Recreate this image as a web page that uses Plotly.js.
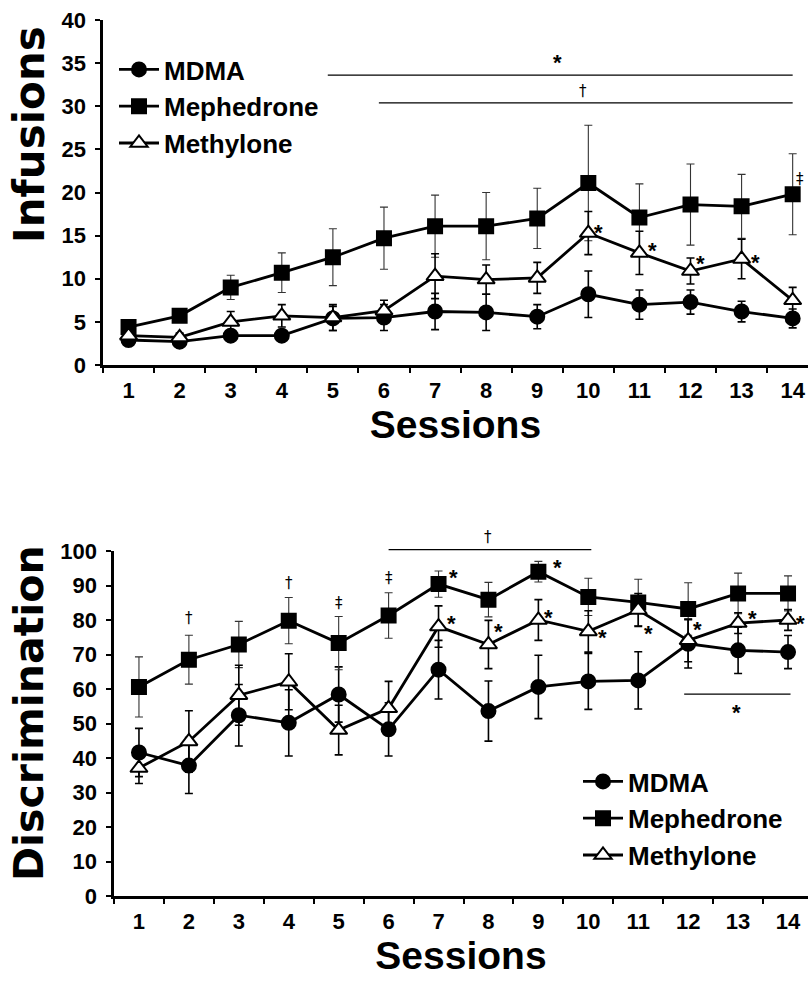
<!DOCTYPE html>
<html><head><meta charset="utf-8">
<script src="https://cdn.plot.ly/plotly-3.0.1.min.js"></script>
<style>html,body{margin:0;padding:0;background:#fff;}#chart{width:808px;height:984px;}</style>
</head><body><div id="chart"></div>
<script>
const sessions = [1,2,3,4,5,6,7,8,9,10,11,12,13,14];
const seriesNames = ['MDMA', 'Mephedrone', 'Methylone'];

// Top panel: Infusions
const infMDMA     = [2.9,2.7,3.4,3.4,5.4,5.5,6.2,6.1,5.6,8.2,7.0,7.3,6.2,5.4];
const infMDMAErr  = [0.6,0.3,0.4,0.5,1.4,1.5,2.1,2.1,1.4,2.7,1.7,1.4,1.2,1.1];
const infMeph     = [4.4,5.7,9.0,10.7,12.5,14.7,16.1,16.1,17.0,21.1,17.1,18.6,18.4,19.8];
const infMephErr  = [0.3,0.3,1.4,2.3,3.3,3.6,3.6,3.9,3.5,6.7,3.9,4.7,3.7,4.7];
const infMeth     = [3.4,3.2,5.0,5.7,5.5,6.3,10.3,9.9,10.1,15.3,13.0,10.9,12.3,7.5];
const infMethErr  = [0.5,0.5,1.2,1.3,1.5,1.2,2.6,1.7,1.8,2.5,2.5,1.5,2.3,1.5];

// Bottom panel: Discrimination
const discMDMA    = [41.6,37.8,52.4,50.2,58.4,48.3,65.6,53.6,60.6,62.2,62.5,73.1,71.2,70.7];
const discMDMAErr = [7.0,8.1,8.9,9.6,8.0,7.7,8.5,8.7,9.2,8.1,8.3,7.0,6.7,4.8];
const discMeph    = [60.6,68.5,72.9,79.8,73.3,81.3,90.4,85.9,94.0,86.7,85.1,83.2,87.7,87.7];
const discMephErr = [8.7,7.1,6.7,6.7,7.7,6.6,3.8,5.0,3.0,5.4,6.7,7.6,5.9,5.1];
const discMeth    = [37.1,44.8,58.2,62.1,48.1,54.4,78.1,72.9,80.0,76.7,82.9,74.1,79.1,80.0];
const discMethErr = [4.5,8.9,8.7,8.1,7.2,7.8,6.0,7.0,5.9,6.0,4.8,6.2,3.0,3.0];

const FONT = 'Liberation Sans, Arial, sans-serif';
const W = 808, H = 984;
const topDom = [(H-365)/H, (H-20)/H];
const botDom = [(H-896)/H, (H-551)/H];
const topRange = [0, 40], botRange = [0, 100];
function py(v, dom, rng){ return dom[0] + (v-rng[0])/(rng[1]-rng[0])*(dom[1]-dom[0]); }

const styles = [
  {symbol:'circle', fill:'black', size:14, err:'black', et:1.6},
  {symbol:'square', fill:'black', size:14, err:'#333', et:1.1},
  {symbol:'triangle-up', fill:'white', size:15, err:'black', et:1.6}
];

function tr(y, err, i, xa, ya, leg){
  const s = styles[i];
  return {
    x: sessions, y: y, name: seriesNames[i], type:'scatter', mode:'lines+markers',
    xaxis: xa, yaxis: ya, legend: leg,
    line:{color:'black', width:2.8},
    marker:{symbol:s.symbol, size:s.size, color:s.fill, line:{color:'black', width:2}},
    error_y:{type:'data', array: err, visible:true, color:s.err, thickness:s.et, width:4},
    cliponaxis:false
  };
}

const data = [
  tr(infMDMA, infMDMAErr, 0, 'x', 'y', 'legend'),
  tr(infMeph, infMephErr, 1, 'x', 'y', 'legend'),
  tr(infMeth, infMethErr, 2, 'x', 'y', 'legend'),
  tr(discMDMA, discMDMAErr, 0, 'x2', 'y2', 'legend2'),
  tr(discMeph, discMephErr, 1, 'x2', 'y2', 'legend2'),
  tr(discMeth, discMethErr, 2, 'x2', 'y2', 'legend2')
];

const tickFont = {family:FONT, size:22, color:'black', weight:'bold'};
function xax(domLeft, rmax, anchor){
  return {
    domain:[domLeft/W, 1], range:[0.5, rmax], anchor: anchor,
    showline:true, linecolor:'black', linewidth:2.6, showgrid:false, zeroline:false,
    tickmode:'array', tickvals: sessions, ticktext: sessions.map(String), ticks:'',
    ticklabelstandoff: 4,
    tickfont: tickFont,
    minor:{tickmode:'linear', tick0:0.5, dtick:1, ticks:'outside', ticklen:5, tickwidth:2, tickcolor:'black', showgrid:false},
    title:{text:'Sessions', font:{family:FONT, size:39, color:'black', weight:'bold'}, standoff:6}
  };
}
function yax(dom, rng, dt, anchor){
  return {
    domain: dom, range: rng, anchor: anchor, dtick: dt, tick0:0,
    showline:true, linecolor:'black', linewidth:2.6, showgrid:false, zeroline:false,
    ticks:'outside', ticklen:5, tickwidth:2, tickcolor:'black', ticklabelstandoff:5,
    tickfont: tickFont
  };
}

const ann = [];
// y-axis titles (rotated text, positioned like the reference)
ann.push({xref:'paper', yref:'paper', x:29/W, y:1-135/H, text:'Infusions', textangle:-90, showarrow:false,
  xanchor:'center', yanchor:'middle', font:{family:'DejaVu Sans, sans-serif', size:42, color:'black', weight:'bold'}});
ann.push({xref:'paper', yref:'paper', x:29/W, y:1-713/H, text:'Discrimination', textangle:-90, showarrow:false,
  xanchor:'center', yanchor:'middle', font:{family:'DejaVu Sans, sans-serif', size:41, color:'black', weight:'bold'}});

function txt(xref, yref, x, y, t, size, shift){
  ann.push({xref:xref, yref:yref, x:x, y:y, text:t, showarrow:false,
    font:{family: t==='*' ? FONT : 'DejaVu Sans, sans-serif', size:size, color:'#000000', weight: t==='*'?'bold':'normal'},
    xanchor:'center', yanchor:'middle', yshift: shift||0});
}
const AST = 22, DAG = 15, ASH = -5;
// top panel marks
txt('x','y',9.4,35.6,'*',AST,ASH);
txt('x','y',9.9,31.8,'†',DAG,0);
txt('x','y',14.15,21.6,'‡',DAG,0);
[[10.2,15.9],[11.25,13.8],[12.2,12.4],[13.27,12.5]].forEach(p=>txt('x','y',p[0],p[1],'*',AST,ASH));
// bottom panel marks
txt('x2','paper',8.0,py(104,botDom,botRange),'†',DAG,0);
txt('x2','y2',12.96,54.5,'*',AST,ASH);
txt('x2','y2',2,80.7,'†',DAG,0);
txt('x2','y2',4,90.8,'†',DAG,0);
txt('x2','y2',5,85,'‡',DAG,0);
txt('x2','y2',6,92.2,'‡',DAG,0);
[[7.3,93.7],[9.38,96.8]].forEach(p=>txt('x2','y2',p[0],p[1],'*',AST,ASH));
[[7.25,80.4],[8.2,78.1],[9.2,82.1],[10.28,76.4],[11.2,77.5],[12.18,78.7],[13.28,81.8],[14.25,80.4]].forEach(p=>txt('x2','y2',p[0],p[1],'*',AST,ASH));

const shapes = [
  {type:'line', xref:'x', yref:'y', x0:4.9, x1:14.0, y0:33.6, y1:33.6, line:{color:'black', width:1.3}},
  {type:'line', xref:'x', yref:'y', x0:5.9, x1:14.0, y0:30.4, y1:30.4, line:{color:'black', width:1.3}},
  {type:'line', xref:'x2', yref:'paper', x0:6.0, x1:10.06, y0:py(100.4,botDom,botRange), y1:py(100.4,botDom,botRange), line:{color:'black', width:1.3}},
  {type:'line', xref:'x2', yref:'y2', x0:11.92, x1:14.05, y0:58.5, y1:58.5, line:{color:'black', width:1.3}}
];

const legFont = {family:FONT, size:26, color:'black', weight:'bold'};
const layout = {
  width:W, height:H, margin:{l:0, r:0, t:0, b:0},
  paper_bgcolor:'white', plot_bgcolor:'white', showlegend:true,
  xaxis: xax(103, 14.3, 'y'),
  yaxis: yax(topDom, topRange, 5, 'x'),
  xaxis2: xax(114, 14.4, 'y2'),
  yaxis2: yax(botDom, botRange, 10, 'x2'),
  legend:{x:114/W, y:1-46/H, xanchor:'left', yanchor:'top', bgcolor:'rgba(0,0,0,0)', font:legFont, itemwidth:40, tracegroupgap:0},
  legend2:{x:578/W, y:1-758/H, xanchor:'left', yanchor:'top', bgcolor:'rgba(0,0,0,0)', font:legFont, itemwidth:40, tracegroupgap:0},
  annotations: ann, shapes: shapes
};
Plotly.newPlot('chart', data, layout, {displayModeBar:false, staticPlot:true});
</script></body></html>
